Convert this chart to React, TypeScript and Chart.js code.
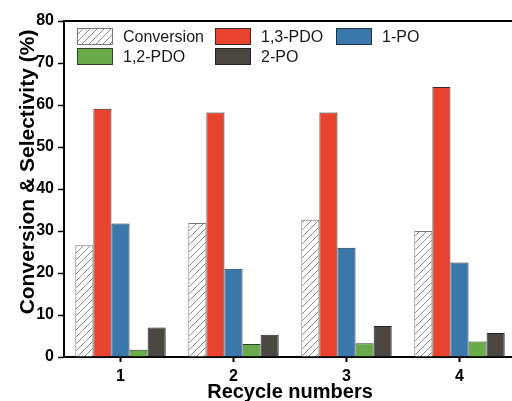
import React, { useEffect, useRef } from 'react';
import { Chart, registerables } from 'chart.js';

Chart.register(...registerables);

const recycleNumbers = ['1', '2', '3', '4'];
const seriesLabels = ['Conversion', '1,3-PDO', '1-PO', '1,2-PDO', '2-PO'];
const conversion = [26.6, 31.9, 32.7, 30.0];
const pdo13 = [59.1, 58.2, 58.2, 64.3];
const po1 = [31.8, 21.0, 26.0, 22.5];
const pdo12 = [1.7, 3.1, 3.3, 3.7];
const po2 = [7.0, 5.3, 7.4, 5.7];
const yMin = 0;
const yMax = 80;
const yMajorStep = 10;
const yMinorStep = 5;
const xTitle = 'Recycle numbers';
const yTitle = 'Conversion & Selectivity (%)';

const FONT = '"Liberation Sans", Arial, Helvetica, sans-serif';

export default function App() {
  const canvasRef = useRef<HTMLCanvasElement | null>(null);

  useEffect(() => {
    const canvas = canvasRef.current;
    if (!canvas) return;
    const ctx = canvas.getContext('2d')!;

    const pc = document.createElement('canvas');
    pc.width = 7;
    pc.height = 7;
    const p = pc.getContext('2d')!;
    p.fillStyle = '#ffffff';
    p.fillRect(0, 0, 7, 7);
    p.strokeStyle = '#8c8c8c';
    p.lineWidth = 1;
    p.beginPath();
    p.moveTo(0, 7); p.lineTo(7, 0);
    p.moveTo(-1, 1); p.lineTo(1, -1);
    p.moveTo(6, 8); p.lineTo(8, 6);
    p.stroke();
    const hatch = ctx.createPattern(pc, 'repeat')!;

    const fills: any[] = [hatch, '#E8432F', '#3A77AB', '#69AB4B', '#4A4743'];
    const borders = ['#777777', '#3a2a28', '#22323f', '#2f3f28', '#222222'];
    const values = [conversion, pdo13, po1, pdo12, po2];

    const decor = {
      id: 'decor',
      afterDraw(chart: any) {
        const { ctx: c, chartArea } = chart;
        c.save();
        c.strokeStyle = '#000';
        c.lineWidth = 2;
        c.beginPath();
        c.moveTo(chartArea.left - 1, chartArea.top);
        c.lineTo(chartArea.right, chartArea.top);
        c.stroke();

        c.fillStyle = '#000';
        c.font = `bold 20px ${FONT}`;
        c.textAlign = 'center';
        c.textBaseline = 'alphabetic';
        c.fillText(xTitle, 290, 398);

        c.save();
        c.translate(34, 172);
        c.rotate(-Math.PI / 2);
        c.font = `bold 21px ${FONT}`;
        c.fillText(yTitle, 0, 0);
        c.restore();

        // legend
        const slots = [
          [77, 28], [215, 28], [336, 28],
          [77, 48], [215, 48],
        ];
        c.font = `16px ${FONT}`;
        c.textAlign = 'left';
        c.textBaseline = 'middle';
        chart.data.datasets.forEach((ds: any, i: number) => {
          const [bx, by] = slots[i];
          const bw = 36, bh = 17;
          c.fillStyle = ds.backgroundColor;
          c.fillRect(bx, by, bw, bh);
          c.strokeStyle = ds.borderColor;
          c.lineWidth = 1;
          c.strokeRect(bx + 0.5, by + 0.5, bw - 1, bh - 1);
          c.fillStyle = '#1a1a1a';
          c.fillText(ds.label, bx + 46, by + bh / 2 + 1);
        });
        c.restore();
      },
    };

    const chart = new Chart(canvas, {
      type: 'bar',
      data: {
        labels: recycleNumbers,
        datasets: seriesLabels.map((label, i) => ({
          label,
          data: values[i],
          backgroundColor: fills[i],
          borderColor: borders[i],
          borderWidth: 1,
          categoryPercentage: 0.8,
          barPercentage: 1.0,
        })),
      },
      options: {
        responsive: false,
        animation: false,
        layout: { padding: { top: 21, left: 0, right: 0, bottom: 0 } },
        plugins: {
          legend: { display: false },
          tooltip: { enabled: false },
          title: { display: false },
        },
        scales: {
          x: {
            type: 'category',
            offset: true,
            grid: {
              offset: false,
              drawOnChartArea: false,
              drawTicks: true,
              tickLength: 5,
              tickWidth: 2,
              tickColor: '#000',
            },
            border: { display: true, color: '#000', width: 2 },
            ticks: {
              color: '#000',
              font: { family: FONT, size: 16, weight: 'bold' },
              padding: 5,
              maxRotation: 0,
            },
            afterFit: (scale: any) => { scale.height = 44; },
          },
          y: {
            min: yMin,
            max: yMax,
            grid: {
              drawOnChartArea: false,
              drawTicks: true,
              tickLength: 6,
              tickWidth: 1.5,
              tickColor: '#000',
            },
            border: { display: true, color: '#000', width: 2 },
            ticks: {
              stepSize: yMinorStep,
              color: '#000',
              font: { family: FONT, size: 16, weight: 'bold' },
              padding: 4,
              callback: (v: any) => (Number(v) % yMajorStep === 0 ? String(v) : ''),
            },
            afterFit: (scale: any) => { scale.width = 64; },
          },
        },
      },
      plugins: [decor],
    } as any);

    return () => chart.destroy();
  }, []);

  return (
    <div style={{ position: 'fixed', left: 0, top: 0, width: 512, height: 401, overflow: 'hidden', background: '#fff' }}>
      <canvas ref={canvasRef} width={516} height={401} style={{ display: 'block' }} />
    </div>
  );
}
